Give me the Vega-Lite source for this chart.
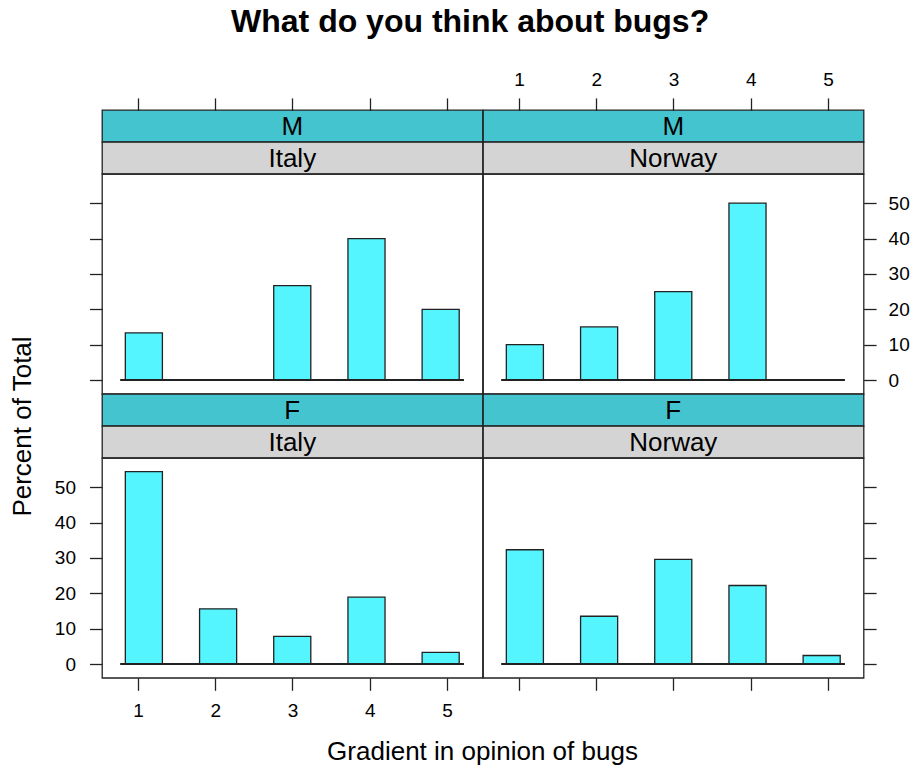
{
  "$schema": "https://vega.github.io/schema/vega-lite/v6.json",
  "padding": {"left": 8, "top": 6, "right": 0, "bottom": 0},
  "title": {
    "text": "What do you think about bugs?",
    "font": "Liberation Sans",
    "fontSize": 32,
    "fontWeight": "bold",
    "color": "black",
    "anchor": "middle",
    "dx": 11,
    "offset": 31
  },
  "datasets": {
    "bugs": [
      {"gender": "M", "country": "Italy", "rating": 1, "lo": 0.836, "hi": 1.316, "pct": 13.33},
      {"gender": "M", "country": "Italy", "rating": 2, "lo": 1.797, "hi": 2.277, "pct": 0},
      {"gender": "M", "country": "Italy", "rating": 3, "lo": 2.757, "hi": 3.237, "pct": 26.67},
      {"gender": "M", "country": "Italy", "rating": 4, "lo": 3.718, "hi": 4.198, "pct": 40},
      {"gender": "M", "country": "Italy", "rating": 5, "lo": 4.678, "hi": 5.158, "pct": 20},
      {"gender": "M", "country": "Norway", "rating": 1, "lo": 0.836, "hi": 1.316, "pct": 10},
      {"gender": "M", "country": "Norway", "rating": 2, "lo": 1.797, "hi": 2.277, "pct": 15},
      {"gender": "M", "country": "Norway", "rating": 3, "lo": 2.757, "hi": 3.237, "pct": 25},
      {"gender": "M", "country": "Norway", "rating": 4, "lo": 3.718, "hi": 4.198, "pct": 50},
      {"gender": "M", "country": "Norway", "rating": 5, "lo": 4.678, "hi": 5.158, "pct": 0},
      {"gender": "F", "country": "Italy", "rating": 1, "lo": 0.836, "hi": 1.316, "pct": 54.4},
      {"gender": "F", "country": "Italy", "rating": 2, "lo": 1.797, "hi": 2.277, "pct": 15.6},
      {"gender": "F", "country": "Italy", "rating": 3, "lo": 2.757, "hi": 3.237, "pct": 7.8},
      {"gender": "F", "country": "Italy", "rating": 4, "lo": 3.718, "hi": 4.198, "pct": 18.9},
      {"gender": "F", "country": "Italy", "rating": 5, "lo": 4.678, "hi": 5.158, "pct": 3.3},
      {"gender": "F", "country": "Norway", "rating": 1, "lo": 0.836, "hi": 1.316, "pct": 32.3},
      {"gender": "F", "country": "Norway", "rating": 2, "lo": 1.797, "hi": 2.277, "pct": 13.5},
      {"gender": "F", "country": "Norway", "rating": 3, "lo": 2.757, "hi": 3.237, "pct": 29.6},
      {"gender": "F", "country": "Norway", "rating": 4, "lo": 3.718, "hi": 4.198, "pct": 22.2},
      {"gender": "F", "country": "Norway", "rating": 5, "lo": 4.678, "hi": 5.158, "pct": 2.4}
    ]
  },
  "columns": 2,
  "spacing": 0,
  "bounds": "flush",
  "concat": [
    {
      "width": 380.6, "height": 31.8,
      "data": {"name": "bugs"},
      "transform": [
        {"filter": "datum.gender === 'M' && datum.country === 'Italy'"},
        {"aggregate": [{"op": "count", "as": "n"}], "groupby": ["gender"]}
      ],
      "mark": {"type": "text", "fontSize": 26, "color": "black", "dy": 1},
      "encoding": {"text": {"field": "gender"}},
      "view": {"fill": "#44C4CE", "stroke": "#222", "strokeWidth": 1.3}
    },
    {
      "width": 380.6, "height": 31.8,
      "data": {"name": "bugs"},
      "transform": [
        {"filter": "datum.gender === 'M' && datum.country === 'Norway'"},
        {"aggregate": [{"op": "count", "as": "n"}], "groupby": ["gender"]}
      ],
      "mark": {"type": "text", "fontSize": 26, "color": "black", "dy": 1},
      "encoding": {"text": {"field": "gender"}},
      "view": {"fill": "#44C4CE", "stroke": "#222", "strokeWidth": 1.3}
    },
    {
      "width": 380.6, "height": 31.8,
      "data": {"name": "bugs"},
      "transform": [
        {"filter": "datum.gender === 'M' && datum.country === 'Italy'"},
        {"aggregate": [{"op": "count", "as": "n"}], "groupby": ["country"]}
      ],
      "mark": {"type": "text", "fontSize": 26, "color": "black", "dy": 1},
      "encoding": {"text": {"field": "country"}},
      "view": {"fill": "#D4D4D4", "stroke": "#222", "strokeWidth": 1.3}
    },
    {
      "width": 380.6, "height": 31.8,
      "data": {"name": "bugs"},
      "transform": [
        {"filter": "datum.gender === 'M' && datum.country === 'Norway'"},
        {"aggregate": [{"op": "count", "as": "n"}], "groupby": ["country"]}
      ],
      "mark": {"type": "text", "fontSize": 26, "color": "black", "dy": 1},
      "encoding": {"text": {"field": "country"}},
      "view": {"fill": "#D4D4D4", "stroke": "#222", "strokeWidth": 1.3}
    },
    {
      "width": 380.6, "height": 219.8,
      "data": {"name": "bugs"},
      "transform": [{"filter": "datum.gender === 'M' && datum.country === 'Italy'"}],
      "view": {"stroke": "#222", "strokeWidth": 1.3},
      "layer": [
        {
          "mark": {"type": "rect", "fill": "#55F5FF", "stroke": "#222", "strokeWidth": 1.3},
          "encoding": {
            "x": {"field": "lo", "type": "quantitative",
                  "scale": {"domain": [0.534, 5.461], "nice": false, "zero": false},
                  "axis": {"orient": "top", "offset": 63.6, "values": [1, 2, 3, 4, 5], "labels": false, "title": null}},
            "x2": {"field": "hi"},
            "y": {"field": "pct", "type": "quantitative",
                  "scale": {"domain": [-3.9, 58.25], "nice": false, "zero": false},
                  "axis": {"orient": "left", "values": [0, 10, 20, 30, 40, 50], "labels": false, "title": null}},
            "y2": {"datum": 0}
          }
        },
        {
          "mark": {"type": "rule", "stroke": "#222", "strokeWidth": 1.3},
          "encoding": {
            "x": {"datum": 0.775, "type": "quantitative"},
            "x2": {"datum": 5.215},
            "y": {"datum": 0, "type": "quantitative"}
          }
        }
      ]
    },
    {
      "width": 380.6, "height": 219.8,
      "data": {"name": "bugs"},
      "transform": [{"filter": "datum.gender === 'M' && datum.country === 'Norway'"}],
      "view": {"stroke": "#222", "strokeWidth": 1.3},
      "layer": [
        {
          "mark": {"type": "rect", "fill": "#55F5FF", "stroke": "#222", "strokeWidth": 1.3},
          "encoding": {
            "x": {"field": "lo", "type": "quantitative",
                  "scale": {"domain": [0.534, 5.461], "nice": false, "zero": false},
                  "axis": {"orient": "top", "offset": 63.6, "values": [1, 2, 3, 4, 5], "format": "d", "title": null, "labelPadding": 8}},
            "x2": {"field": "hi"},
            "y": {"field": "pct", "type": "quantitative",
                  "scale": {"domain": [-3.9, 58.25], "nice": false, "zero": false},
                  "axis": {"orient": "right", "values": [0, 10, 20, 30, 40, 50], "format": "d", "title": null, "labelPadding": 12}},
            "y2": {"datum": 0}
          }
        },
        {
          "mark": {"type": "rule", "stroke": "#222", "strokeWidth": 1.3},
          "encoding": {
            "x": {"datum": 0.775, "type": "quantitative"},
            "x2": {"datum": 5.215},
            "y": {"datum": 0, "type": "quantitative"}
          }
        }
      ]
    },
    {
      "width": 380.6, "height": 31.8,
      "data": {"name": "bugs"},
      "transform": [
        {"filter": "datum.gender === 'F' && datum.country === 'Italy'"},
        {"aggregate": [{"op": "count", "as": "n"}], "groupby": ["gender"]}
      ],
      "mark": {"type": "text", "fontSize": 26, "color": "black", "dy": 1},
      "encoding": {"text": {"field": "gender"}},
      "view": {"fill": "#44C4CE", "stroke": "#222", "strokeWidth": 1.3}
    },
    {
      "width": 380.6, "height": 31.8,
      "data": {"name": "bugs"},
      "transform": [
        {"filter": "datum.gender === 'F' && datum.country === 'Norway'"},
        {"aggregate": [{"op": "count", "as": "n"}], "groupby": ["gender"]}
      ],
      "mark": {"type": "text", "fontSize": 26, "color": "black", "dy": 1},
      "encoding": {"text": {"field": "gender"}},
      "view": {"fill": "#44C4CE", "stroke": "#222", "strokeWidth": 1.3}
    },
    {
      "width": 380.6, "height": 31.8,
      "data": {"name": "bugs"},
      "transform": [
        {"filter": "datum.gender === 'F' && datum.country === 'Italy'"},
        {"aggregate": [{"op": "count", "as": "n"}], "groupby": ["country"]}
      ],
      "mark": {"type": "text", "fontSize": 26, "color": "black", "dy": 1},
      "encoding": {"text": {"field": "country"}},
      "view": {"fill": "#D4D4D4", "stroke": "#222", "strokeWidth": 1.3}
    },
    {
      "width": 380.6, "height": 31.8,
      "data": {"name": "bugs"},
      "transform": [
        {"filter": "datum.gender === 'F' && datum.country === 'Norway'"},
        {"aggregate": [{"op": "count", "as": "n"}], "groupby": ["country"]}
      ],
      "mark": {"type": "text", "fontSize": 26, "color": "black", "dy": 1},
      "encoding": {"text": {"field": "country"}},
      "view": {"fill": "#D4D4D4", "stroke": "#222", "strokeWidth": 1.3}
    },
    {
      "width": 380.6, "height": 219.8,
      "data": {"name": "bugs"},
      "transform": [{"filter": "datum.gender === 'F' && datum.country === 'Italy'"}],
      "view": {"stroke": "#222", "strokeWidth": 1.3},
      "layer": [
        {
          "mark": {"type": "rect", "fill": "#55F5FF", "stroke": "#222", "strokeWidth": 1.3},
          "encoding": {
            "x": {"field": "lo", "type": "quantitative",
                  "scale": {"domain": [0.534, 5.461], "nice": false, "zero": false},
                  "axis": {"orient": "bottom", "values": [1, 2, 3, 4, 5], "format": "d", "labelPadding": 11,
                           "title": "Gradient in opinion of bugs", "titleX": 380, "titleY": 82, "titleBaseline": "alphabetic"}},
            "x2": {"field": "hi"},
            "y": {"field": "pct", "type": "quantitative",
                  "scale": {"domain": [-3.9, 58.25], "nice": false, "zero": false},
                  "axis": {"orient": "left", "values": [0, 10, 20, 30, 40, 50], "format": "d", "labelPadding": 14,
                           "title": "Percent of Total", "titleX": -72, "titleY": -32, "titleAngle": 270, "titleBaseline": "alphabetic", "titleAlign": "center"}},
            "y2": {"datum": 0}
          }
        },
        {
          "mark": {"type": "rule", "stroke": "#222", "strokeWidth": 1.3},
          "encoding": {
            "x": {"datum": 0.775, "type": "quantitative"},
            "x2": {"datum": 5.215},
            "y": {"datum": 0, "type": "quantitative"}
          }
        }
      ]
    },
    {
      "width": 380.6, "height": 219.8,
      "data": {"name": "bugs"},
      "transform": [{"filter": "datum.gender === 'F' && datum.country === 'Norway'"}],
      "view": {"stroke": "#222", "strokeWidth": 1.3},
      "layer": [
        {
          "mark": {"type": "rect", "fill": "#55F5FF", "stroke": "#222", "strokeWidth": 1.3},
          "encoding": {
            "x": {"field": "lo", "type": "quantitative",
                  "scale": {"domain": [0.534, 5.461], "nice": false, "zero": false},
                  "axis": {"orient": "bottom", "values": [1, 2, 3, 4, 5], "labels": false, "title": null}},
            "x2": {"field": "hi"},
            "y": {"field": "pct", "type": "quantitative",
                  "scale": {"domain": [-3.9, 58.25], "nice": false, "zero": false},
                  "axis": {"orient": "right", "values": [0, 10, 20, 30, 40, 50], "labels": false, "title": null}},
            "y2": {"datum": 0}
          }
        },
        {
          "mark": {"type": "rule", "stroke": "#222", "strokeWidth": 1.3},
          "encoding": {
            "x": {"datum": 0.775, "type": "quantitative"},
            "x2": {"datum": 5.215},
            "y": {"datum": 0, "type": "quantitative"}
          }
        }
      ]
    }
  ],
  "config": {
    "font": "Liberation Sans",
    "background": "white",
    "view": {"stroke": "#222", "strokeWidth": 1.3},
    "axis": {
      "grid": false,
      "domain": false,
      "ticks": true,
      "tickSize": 12.5,
      "tickColor": "#222",
      "tickWidth": 1.3,
      "labelColor": "black",
      "labelFontSize": 19,
      "labelFont": "Liberation Sans",
      "labelPadding": 12,
      "titleFont": "Liberation Sans",
      "titleFontSize": 26,
      "titleFontWeight": "normal",
      "titleColor": "black"
    }
  }
}
